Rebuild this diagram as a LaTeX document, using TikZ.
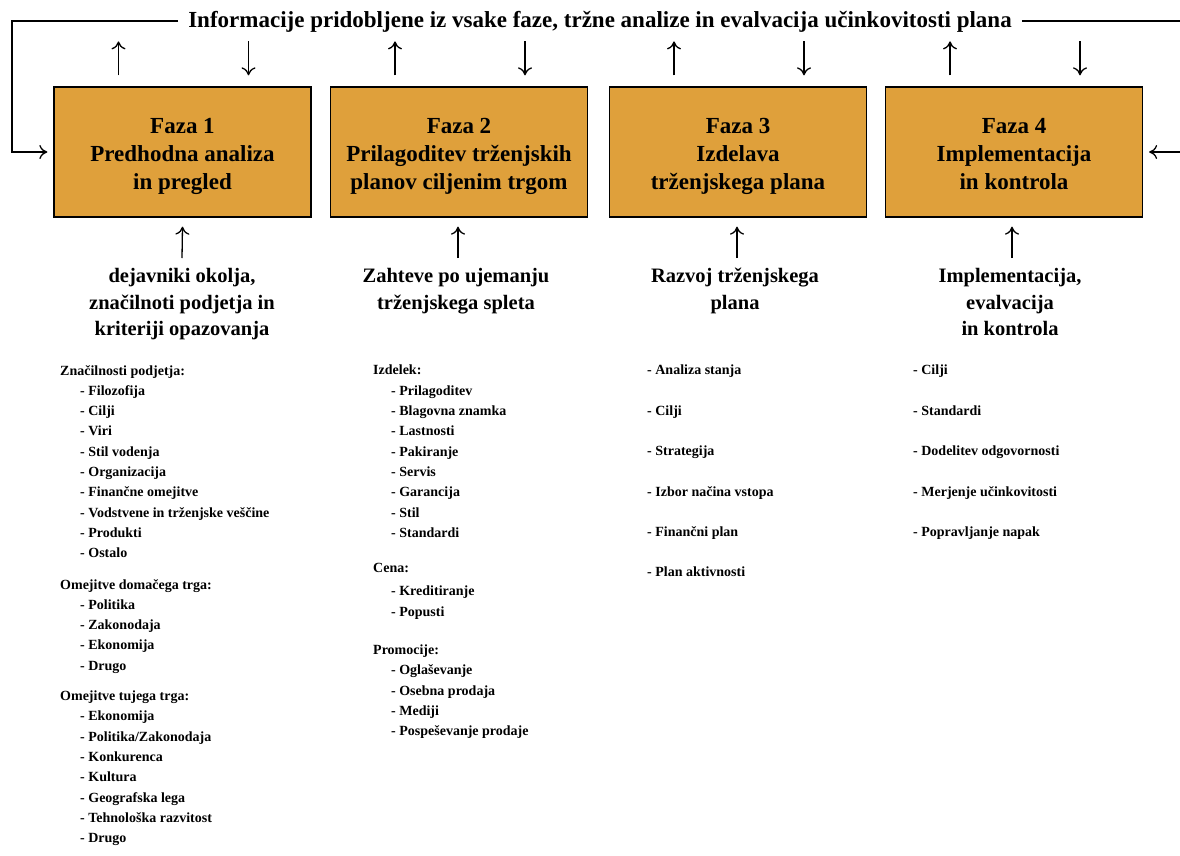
\documentclass[tikz,border=0pt]{standalone}
\usepackage{fontspec}
\setmainfont{Liberation Serif}
\usetikzlibrary{arrows.meta}

\definecolor{fazaorange}{HTML}{DFA03B}
\newcommand{\vrh}{\rule{0pt}{27.5pt}}

\begin{document}
\begin{tikzpicture}[x=1pt, y=-1pt,
        faza/.style={draw, line width=1.3pt, fill=fazaorange, minimum width=257pt, minimum height=130pt,
            align=center, font=\bfseries\fontsize{23}{28}\selectfont},
        vhod/.style={anchor=north, align=center, font=\bfseries\fontsize{20.5}{26.5}\selectfont},
        seznam/.style={anchor=north west, align=left, inner sep=0pt, font=\bfseries\fontsize{14}{20.3}\selectfont},
        puscica/.style={line width=1.3pt, -{Computer Modern Rightarrow[length=8pt, width=14pt]}}]
        \useasboundingbox (0,0) rectangle (1180,855);

        % faze
        \node[faza] (f1) at (182.5,152) {\vrh Faza 1\\\strut Predhodna analiza\\\strut in pregled};
        \node[faza] (f2) at (459,152) {\vrh Faza 2\\\strut Prilagoditev trženjskih\\\strut planov ciljenim trgom};
        \node[faza] (f3) at (738,152) {\vrh Faza 3\\\strut Izdelava\\\strut trženjskega plana};
        \node[faza] (f4) at (1014,152) {\vrh Faza 4\\\strut Implementacija\\\strut in kontrola};

        % povratna informacija
        \node[font=\bfseries\fontsize{23}{26}\selectfont, inner xsep=10pt] (info) at (600,22)
            {Informacije pridobljene iz vsake faze, tržne analize in evalvacija učinkovitosti plana};
        \coordinate (lz) at (12,21);
        \coordinate (dz) at (1180,21);
        \coordinate (dv) at (1180,152);
        \draw[line width=1.3pt] (info.east |- dz) -- (dz);
        \draw[puscica, shorten >=6pt] (info.west |- lz) -- (lz) |- (f1.west);
        \draw[puscica, shorten >=6pt] (dv) -- (f4.east);

        \foreach \f in {f1,f2,f3,f4} {
            \draw[puscica] ([xshift=-64pt, yshift=11pt]\f.north) -- ([xshift=-64pt, yshift=45pt]\f.north);
            \draw[puscica] ([xshift=66pt, yshift=45pt]\f.north) -- ([xshift=66pt, yshift=11pt]\f.north);
        }

        % vhodi
        \node[vhod] (v1) at (182,265) {dejavniki okolja,\\značilnoti podjetja in\\kriteriji opazovanja};
        \node[vhod] (v2) at (456,265) {Zahteve po ujemanju\\trženjskega spleta};
        \node[vhod] (v3) at (735,265) {Razvoj trženjskega\\plana};
        \node[vhod] (v4) at (1010,265) {Implementacija,\\evalvacija\\in kontrola};
        \draw[puscica] ([yshift=7pt]v1.north) -- ([yshift=-9pt]f1.south);
        \draw[puscica] ([yshift=7pt, xshift=2pt]v2.north) -- ([yshift=-9pt, xshift=-1pt]f2.south);
        \draw[puscica] ([yshift=7pt, xshift=2pt]v3.north) -- ([yshift=-9pt, xshift=-1pt]f3.south);
        \draw[puscica] ([yshift=7pt, xshift=2pt]v4.north) -- ([yshift=-9pt, xshift=-2pt]f4.south);

        % seznami
        \node[seznam] (s1) at (60,365) {Značilnosti podjetja:\\
            \hspace*{20pt}- Filozofija\\
            \hspace*{20pt}- Cilji\\
            \hspace*{20pt}- Viri\\
            \hspace*{20pt}- Stil vodenja\\
            \hspace*{20pt}- Organizacija\\
            \hspace*{20pt}- Finančne omejitve\\
            \hspace*{20pt}- Vodstvene in trženjske veščine\\
            \hspace*{20pt}- Produkti\\
            \hspace*{20pt}- Ostalo\\[11pt]
            Omejitve domačega trga:\\
            \hspace*{20pt}- Politika\\
            \hspace*{20pt}- Zakonodaja\\
            \hspace*{20pt}- Ekonomija\\
            \hspace*{20pt}- Drugo\\[10pt]
            Omejitve tujega trga:\\
            \hspace*{20pt}- Ekonomija\\
            \hspace*{20pt}- Politika/Zakonodaja\\
            \hspace*{20pt}- Konkurenca\\
            \hspace*{20pt}- Kultura\\
            \hspace*{20pt}- Geografska lega\\
            \hspace*{20pt}- Tehnološka razvitost\\
            \hspace*{20pt}- Drugo};
        \node[seznam] (s2) at (373,365) {Izdelek:\\
            \hspace*{18pt}- Prilagoditev\\
            \hspace*{18pt}- Blagovna znamka\\
            \hspace*{18pt}- Lastnosti\\
            \hspace*{18pt}- Pakiranje\\
            \hspace*{18pt}- Servis\\
            \hspace*{18pt}- Garancija\\
            \hspace*{18pt}- Stil\\
            \hspace*{18pt}- Standardi\\[15pt]
            Cena:\\[3pt]
            \hspace*{18pt}- Kreditiranje\\
            \hspace*{18pt}- Popusti\\[18pt]
            Promocije:\\
            \hspace*{18pt}- Oglaševanje\\
            \hspace*{18pt}- Osebna prodaja\\
            \hspace*{18pt}- Mediji\\
            \hspace*{18pt}- Pospeševanje prodaje};
        \node[seznam, font=\bfseries\fontsize{14}{40.4}\selectfont] (s3) at (647,365) {- Analiza stanja\\
            - Cilji\\
            - Strategija\\
            - Izbor načina vstopa\\
            - Finančni plan\\
            - Plan aktivnosti};
        \node[seznam, font=\bfseries\fontsize{14}{40.4}\selectfont] (s4) at (913,365) {- Cilji\\
            - Standardi\\
            - Dodelitev odgovornosti\\
            - Merjenje učinkovitosti\\
            - Popravljanje napak};
    \end{tikzpicture}
\end{document}
